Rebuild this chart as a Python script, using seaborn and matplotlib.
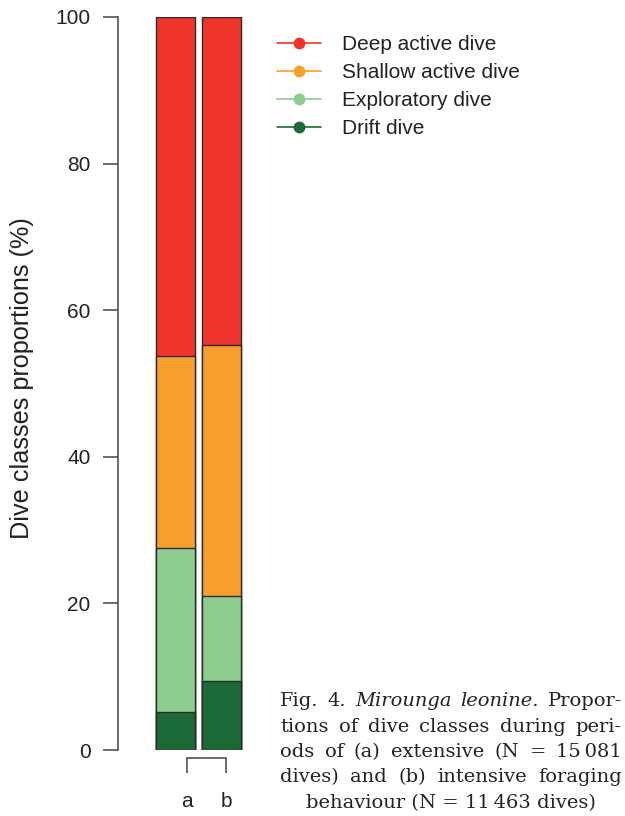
import numpy as np
import matplotlib
matplotlib.use("Agg")
import matplotlib.pyplot as plt
import seaborn as sns
from matplotlib.lines import Line2D

# Dive class proportions (%) for the two foraging periods
periods = ["a", "b"]
drift = [5.2, 9.4]
exploratory = [22.4, 11.6]
shallow = [26.2, 34.3]
deep = [46.2, 44.7]

class_names = ["Deep active dive", "Shallow active dive", "Exploratory dive", "Drift dive"]
class_colors = ["#EE342B", "#F7A02E", "#8ECD8E", "#1C6A37"]

sns.set_style("ticks")
plt.rcParams["font.family"] = ["Liberation Sans", "DejaVu Sans"]

W, H = 625, 816
fig = plt.figure(figsize=(W / 100, H / 100), dpi=100)
ax = fig.add_axes([118 / W, 1 - 750 / H, (260 - 118) / W, (750 - 17) / H])

# stacked bars: draw cumulative totals from the top layer down
layers = [drift, exploratory, shallow, deep]
cum = np.cumsum(np.array(layers), axis=0)
layer_colors = class_colors[::-1]
for top, col in zip(cum[::-1], layer_colors[::-1]):
    sns.barplot(x=periods, y=top, color=col, saturation=1, width=0.853,
                edgecolor="#2b2b2b", linewidth=1.0, ax=ax, zorder=2)

ax.set_xlim(-1.258, 1.849)
ax.set_ylim(0, 100)
ax.set_yticks([0, 20, 40, 60, 80, 100])
ax.set_xticks([0.245, 1.112], periods)
ax.set_xlabel("")
ax.set_ylabel("")

spine_col = "#444444"
for s in ["top", "right"]:
    ax.spines[s].set_visible(False)
ax.spines["left"].set_color(spine_col)
ax.spines["left"].set_linewidth(1.1)
ax.spines["left"].set_bounds(0, 100)
ax.spines["bottom"].set_color(spine_col)
ax.spines["bottom"].set_linewidth(1.1)
ax.spines["bottom"].set_position(("outward", 6))
ax.spines["bottom"].set_bounds(0.245, 1.112)
ax.tick_params(axis="y", length=10.8, width=1.1, color=spine_col, pad=9,
               labelsize=15, labelcolor="#222222")
ax.tick_params(axis="x", length=10.5, width=1.1, color=spine_col, pad=14,
               labelsize=15, labelcolor="#222222")

fig.text(22 / W, 1 - 378 / H, "Dive classes proportions (%)", rotation=90,
         ha="center", va="center", fontsize=18.2, color="#222222")

handles = [Line2D([], [], color=c, lw=1.2, marker="o", markersize=7.5,
                  markerfacecolor=c, markeredgecolor=c) for c in class_colors]
fig.legend(handles, class_names, loc="upper left", bbox_to_anchor=(277 / W, 1 - 35 / H),
           frameon=False, fontsize=15, handlelength=2.1, handletextpad=1.0,
           labelspacing=0.44, borderpad=0, borderaxespad=0,
           labelcolor="#222222")

# justified caption block
cap_lines = [
    [("Fig.", "normal"), ("4.", "normal"), ("Mirounga", "italic"), ("leonine.", "italic"), ("Propor-", "normal")],
    [(w, "normal") for w in "tions of dive classes during peri-".split()],
    [(w, "normal") for w in "ods of (a) extensive (N = 15\u2009081".split(" ")],
    [(w, "normal") for w in "dives) and (b) intensive foraging".split()],
]
last_line = "behaviour (N = 11\u2009463 dives)"
cap_x0, cap_x1 = 280, 622
baselines = [706, 731.5, 757, 782.5, 808]
cap_font = dict(family=["DejaVu Serif"], fontsize=14, color="#222222")

fig.canvas.draw()
renderer = fig.canvas.get_renderer()
for words, yb in zip(cap_lines, baselines):
    texts = [fig.text(0, 1 - yb / H, w, style=st, va="baseline", ha="left", **cap_font)
             for w, st in words]
    widths = [t.get_window_extent(renderer).width for t in texts]
    gap = (cap_x1 - cap_x0 - sum(widths)) / (len(words) - 1)
    x = cap_x0
    for t, wd in zip(texts, widths):
        t.set_x(x / W)
        x += wd + gap
fig.text((cap_x0 + cap_x1) / 2 / W, 1 - baselines[-1] / H, last_line,
         ha="center", va="baseline", **cap_font)

fig.savefig("out.png", dpi=100)
